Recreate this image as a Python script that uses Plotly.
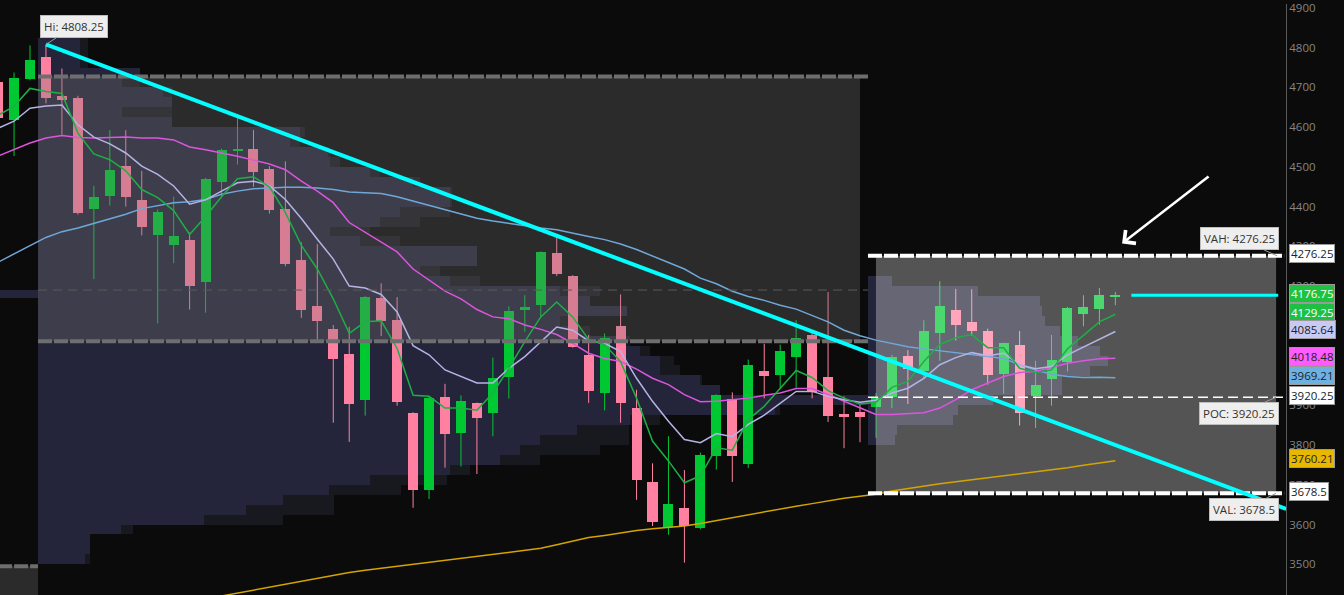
import pandas as pd
import plotly.graph_objects as go

# ---------------- data ----------------
weeks = pd.date_range("2021-12-13", periods=71, freq="7D")   # weekly candles

opens = [4712.5, 4617.5, 4722.5, 4777.5, 4677.5, 4672.5, 4393, 4428, 4502.5, 4417.5,
         4328, 4303, 4315, 4210, 4462.5, 4541, 4545, 4495, 4395, 4265,
         4150, 4092.5, 4030, 3913, 4170, 4115, 3880, 3686, 3920, 3831,
         3905, 3881, 3971, 4141, 4153, 4282.5, 4225, 4027.5, 3930, 4100,
         3892.5, 3707.5, 3593, 3642, 3591, 3773, 3915, 3751, 3987.5, 3976,
         4022.5, 4077.5, 3970, 3877.5, 3882.5, 3896, 3921, 4025, 3987.5, 4081,
         4140, 4110, 4087.5, 3978, 4052.5, 3924, 3966, 4010, 4131, 4143, 4174]
highs = [4725, 4737.5, 4805.75, 4808.25, 4747.5, 4679, 4452.5, 4592.5, 4592.5, 4490,
         4393, 4425, 4335, 4472.5, 4546, 4631, 4593, 4502, 4514, 4310,
         4306, 4102, 4097.5, 4175, 4207, 4172.5, 3882.5, 3922.5, 3954, 3925,
         3907, 4020, 4149, 4177, 4287.5, 4331, 4227.5, 4077, 4081, 4179,
         3939, 3754, 3822, 3737, 3781, 3927.5, 3932.5, 4015, 4055, 4052.5,
         4114, 4081, 4185, 3922.5, 3902, 3931, 4027, 4039, 4114, 4212,
         4193, 4192, 4093, 4057.5, 4087, 4012, 4077, 4147.5, 4177, 4195, 4185]
lows = [4610, 4527.5, 4718, 4660, 4581, 4380, 4217.5, 4402.5, 4400, 4327.5,
        4106, 4257.5, 4141, 4133, 4421, 4506, 4450, 4382.5, 4250, 4120,
        4064, 3856, 3808, 3874, 4074, 3899, 3642, 3664, 3743, 3746,
        3727, 3822, 3917, 4085, 4122.5, 4225, 4045, 3906, 3887, 3856,
        3662, 3596, 3574, 3504, 3588, 3738, 3707, 3742, 3917.5, 3942.5,
        3944, 3917.5, 3858, 3792, 3807, 3818, 3893, 3903, 3968, 4012,
        4063, 4075, 3952, 3929, 3849, 3843, 3899, 3985, 4099, 4103, 4152]
closes = [4622.5, 4725, 4770, 4673, 4668, 4385, 4425, 4492.5, 4423, 4348,
          4387.5, 4325, 4200, 4470, 4543, 4545, 4487.5, 4392.5, 4255, 4141,
          4112.5, 4016, 3903, 4172.5, 4112.5, 3908, 3686, 3917.5, 3828, 3910,
          3868, 3967.5, 4137.5, 4147, 4285, 4230, 4047.5, 3935, 4070, 3905,
          3712.5, 3605, 3652.5, 3596, 3775, 3926, 3773, 4002.5, 3972.5, 4037.5,
          4070, 3934, 3872.5, 3870, 3870, 3918, 4022, 3991, 4087.5, 4150,
          4103, 4087.5, 3975, 4057, 3881, 3952, 4014, 4145, 4147.5, 4177.5, 4176.75]

ma_fast = [4630, 4652.5, 4697.5, 4690, 4685, 4585, 4532.5, 4518, 4490, 4443,
           4422.5, 4390, 4330, 4375, 4425, 4470, 4475, 4450, 4385, 4302.5,
           4243, 4168, 4081, 4110, 4112.5, 4043, 3925, 3922.5, 3893, 3893,
           3887.5, 3931, 3993, 4060, 4122.5, 4160, 4122.5, 4065, 4052.5, 4010,
           3918, 3810, 3760, 3705, 3722.5, 3793, 3787, 3864, 3897.5, 3943,
           3987.5, 3970, 3937, 3918, 3903, 3907.5, 3945, 3960, 4010, 4053,
           4070, 4078, 4045, 4045, 3993, 3982.5, 3989, 4042, 4075, 4110, 4129.25]
ma_10 = [4597.5, 4615, 4647.5, 4653, 4656, 4606, 4575, 4558, 4535, 4502,
         4481, 4452, 4406, 4417, 4439, 4460, 4464, 4453, 4418, 4370,
         4318, 4268, 4200, 4195, 4179, 4135, 4050, 4027, 3989, 3972.5,
         3956, 3956, 3993, 4022.5, 4060, 4097, 4089, 4062, 4056, 4035,
         3968, 3910, 3860, 3814, 3806, 3829, 3821, 3852, 3875, 3906,
         3935, 3935, 3922.5, 3914, 3907.5, 3912.5, 3931, 3943, 3968, 4002,
         4020, 4032.5, 4025, 4031, 4002, 3992, 3997.5, 4027, 4046, 4067, 4085.64]
ma_20 = [4527.5, 4543, 4560, 4572.5, 4579, 4574, 4573, 4574, 4575, 4573,
         4572.5, 4568, 4550, 4543, 4535, 4527, 4517, 4507.5, 4493, 4464,
         4439, 4410, 4360, 4335, 4310, 4286, 4243, 4216, 4187.5, 4168,
         4141, 4122.5, 4118, 4102, 4091, 4078, 4056, 4031, 4018, 4010,
         3991, 3968, 3952, 3927, 3909, 3910, 3914, 3918, 3925, 3931,
         3942, 3942, 3927, 3910, 3893, 3877, 3877, 3879, 3881, 3893,
         3914, 3939, 3956, 3972.5, 3982.5, 3985, 3995, 4006, 4012, 4017, 4018.48]
ma_50 = [4260, 4280, 4302, 4322.5, 4337, 4346, 4357.5, 4370, 4381, 4395,
         4403, 4410, 4412, 4418, 4431, 4439, 4445, 4447.5, 4449, 4449,
         4447, 4443, 4437, 4435, 4433, 4425, 4414, 4404, 4393, 4381,
         4371, 4364, 4358, 4352, 4346, 4342, 4333, 4325, 4317, 4306,
         4292, 4275, 4260, 4243, 4220, 4206, 4187, 4174, 4164, 4152,
         4142, 4127, 4110, 4089, 4075, 4064, 4056, 4047.5, 4042, 4037,
         4031, 4027, 4022.5, 4018, 4002, 3989, 3978, 3972.5, 3970, 3970.5, 3969.21]
ma_200 = [None] * 14 + [
         3420, 3427.5, 3435, 3441, 3449, 3456, 3464, 3471, 3479, 3485,
         3490, 3495, 3500, 3505, 3510, 3515, 3520, 3524, 3530, 3535,
         3540, 3549, 3557.5, 3567, 3572.5, 3579, 3585, 3589, 3592.5, 3596,
         3602.5, 3610, 3617.5, 3625, 3632.5, 3640, 3646, 3652.5, 3660, 3666,
         3671, 3676, 3684, 3690, 3697.5, 3702.5, 3707.5, 3712.5, 3717.5, 3722.5,
         3727.5, 3732.5, 3736, 3742.5, 3749, 3755, 3760.21]

# volume profiles (25-point price bins, relative volume)
left_levels = list(range(3500, 4825, 25))
left_vol = [47, 52, 52, 83, 166, 208, 245, 291, 332, 412, 462, 482, 502, 539, 592, 737,
            830, 682, 662, 622, 622, 602, 582, 542, 522, 589, 552, 522, 412, 382, 439,
            439, 322, 292, 342, 362, 412, 412, 375, 332, 292, 290, 252, 262, 134, 84,
            134, 125, 84, 102, 42, 42, 42]
left_vol_ext = [52, 52, 52, 95, 245, 296, 296, 363, 409, 432, 502, 562, 591, 591, 622, 742,
                830, 682, 664, 642, 636, 612, 592, 552, 532, 589, 552, 562, 442, 402, 439,
                439, 362, 332, 382, 412, 414, 414, 382, 342, 302, 292, 262, 267, 134, 134,
                134, 134, 102, 102, 50, 50, 50]
right_levels = list(range(3800, 4225, 25))
right_vol = [27, 29, 85, 90, 125, 194, 194, 222, 240, 232, 210, 192, 177, 174, 172, 110, 24]

left_vah, left_val, left_poc = 4727.5, 4061.0, 4190.0
vah, val, poc = 4276.25, 3678.5, 3920.25
prev_val, prev_bar_level = 3495.0, 4181.0
trend_end_price = 3639.0

assert len(opens) == len(highs) == len(lows) == len(closes) == len(weeks) == 71
for arr in (ma_fast, ma_10, ma_20, ma_50, ma_200):
    assert len(arr) == 71
assert len(left_vol) == len(left_levels) == len(left_vol_ext)
assert len(right_vol) == len(right_levels)

# ---------------- styling ----------------
BG = "#0b0b0b"
UP, DOWN = "#00c832", "#ff80a0"
NAVY, NAVY_DARK = "#24253a", "#18181f"
WEEK = pd.Timedelta(days=7)
T0 = weeks[3]          # the week of the high
MS_WEEK = 7 * 86400000
PX_PER_WEEK = 15.96
VOL_MS = MS_WEEK / PX_PER_WEEK   # one volume unit spans one pixel


def at(k):
    return T0 + WEEK * k


fig = go.Figure()

# previous-profile remnant at far left
fig.add_trace(go.Bar(y=[prev_bar_level], x=[3.5 * MS_WEEK], base=[at(-4)], orientation="h",
                     width=20, marker=dict(color=NAVY, line_width=0), hoverinfo="skip"))

# left profile (extension tone then core tone)
lstart = at(-0.5)
fig.add_trace(go.Bar(y=[l + 12.5 for l in left_levels], x=[v * VOL_MS for v in left_vol_ext],
                     base=[lstart] * len(left_levels), orientation="h", width=25.3,
                     marker=dict(color=NAVY_DARK, line_width=0), hoverinfo="skip"))
fig.add_trace(go.Bar(y=[l + 12.5 for l in left_levels], x=[v * VOL_MS for v in left_vol],
                     base=[lstart] * len(left_levels), orientation="h", width=25.3,
                     marker=dict(color=NAVY, line_width=0), hoverinfo="skip"))
# right profile
rstart = at(51.5)
fig.add_trace(go.Bar(y=[l + 12.5 for l in right_levels], x=[v * VOL_MS for v in right_vol],
                     base=[rstart] * len(right_levels), orientation="h", width=25.3,
                     marker=dict(color=NAVY, line_width=0), hoverinfo="skip"))

# candles
body_w = 0.627 * MS_WEEK
up_idx = [i for i in range(71) if closes[i] >= opens[i]]
dn_idx = [i for i in range(71) if closes[i] < opens[i]]
fig.add_trace(go.Bar(x=[weeks[i] for i in up_idx], y=[max(closes[i] - opens[i], 0.8) for i in up_idx],
                     base=[opens[i] for i in up_idx], width=body_w,
                     marker=dict(color=UP, line_width=0), hoverinfo="skip"))
fig.add_trace(go.Bar(x=[weeks[i] for i in dn_idx], y=[opens[i] - closes[i] for i in dn_idx],
                     base=[closes[i] for i in dn_idx], width=body_w,
                     marker=dict(color=DOWN, line_width=0), hoverinfo="skip"))


def wicks(idx):
    xs, ys = [], []
    for i in idx:
        xs += [weeks[i], weeks[i], None]
        ys += [lows[i], highs[i], None]
    return xs, ys


for idx, col in ((up_idx, UP), (dn_idx, DOWN)):
    wx, wy = wicks(idx)
    fig.add_trace(go.Scatter(x=wx, y=wy, mode="lines", line=dict(color=col, width=1),
                             hoverinfo="skip"))


def rect(x0, x1, y0, y1, color):
    fig.add_trace(go.Scatter(x=[x0, x1, x1, x0, x0], y=[y0, y0, y1, y1, y0], mode="lines",
                             fill="toself", fillcolor=color, line=dict(width=0),
                             hoverinfo="skip"))


# value-area overlays
rect(at(-0.5), at(51.0), left_val, left_vah, "rgba(118,118,118,0.30)")
rect(at(-4), at(-0.5), 3300, prev_val, "rgba(118,118,118,0.30)")
rect(at(52.0), at(77.07), val, vah, "rgba(255,255,255,0.30)")

# moving averages
for arr, col in ((ma_200, "#d4a500"), (ma_50, "#6fa8d8"), (ma_20, "#dd55dd"),
                 (ma_10, "#b4b4e6"), (ma_fast, "#1fae45")):
    fig.add_trace(go.Scatter(x=weeks, y=arr, mode="lines", line=dict(color=col, width=1.5),
                             hoverinfo="skip", connectgaps=False))

# ---------------- lines ----------------
shapes = []


def hline(x0, x1, y, color, width, dash):
    shapes.append(dict(type="line", xref="x", yref="y", x0=x0, x1=x1, y0=y, y1=y,
                       line=dict(color=color, width=width, dash=dash), layer="above"))


hline(at(-0.5), at(51.5), left_vah, "#6e6e6e", 4, "14px,2px")
hline(at(-0.5), at(51.5), left_val, "#6e6e6e", 4, "14px,2px")
hline(at(-0.5), at(51.5), left_poc, "#5a5a5a", 1, "9px,6px")
hline(at(-4), at(-0.5), prev_val, "#6e6e6e", 4, "14px,2px")
hline(at(51.5), at(77.57), vah, "#ffffff", 4, "14px,2px")
hline(at(51.5), at(77.57), val, "#ffffff", 4, "14px,2px")
hline(at(51.5), at(77.57), poc, "#ffffff", 1.5, "10px,5px")
hline(at(68.0), at(77.2), closes[-1], "#00ffff", 3, "solid")
# trendline from the high
shapes.append(dict(type="line", xref="x", yref="y", x0=weeks[3], y0=highs[3],
                   x1=at(77.7), y1=trend_end_price,
                   line=dict(color="#00ffff", width=4), layer="above"))

# ---------------- annotations ----------------
ann = []
FONT = "Open Sans"


def callout(x, y, text, ax, ay):
    ann.append(dict(x=x, y=y, xref="x", yref="y", text=text, showarrow=True, arrowhead=0,
                    arrowwidth=1, arrowcolor="#9a9a9a", ax=ax, ay=ay,
                    bgcolor="#eeeeee", bordercolor="#bdbdbd", borderwidth=1, borderpad=3,
                    font=dict(family=FONT, size=11.5, color="#333333")))


callout(weeks[3], max(highs), f"Hi: {max(highs):.2f}", 28, -18)
callout(at(77.13), vah, f"VAH: {vah:.2f}", -38, -17)
callout(at(77.07), poc, f"POC: {poc:.2f}", -37, 16)
callout(at(77.07), val, f"VAL: {val:g}", -32, 16)

tags = [
    (vah, f"{vah:.2f}", "#ffffff", "#222222"),
    (closes[-1], f"{closes[-1]:.2f}", "#1fc13f", "#ffffff"),
    (ma_fast[-1], f"{ma_fast[-1]:.2f}", "#1fbf45", "#ffffff"),
    (ma_10[-1], f"{ma_10[-1]:.2f}", "#c9c9f5", "#222222"),
    (ma_20[-1], f"{ma_20[-1]:.2f}", "#ff5cff", "#222222"),
    (ma_50[-1], f"{ma_50[-1]:.2f}", "#6db1e3", "#222222"),
    (poc, f"{poc:.2f}", "#ffffff", "#222222"),
    (ma_200[-1], f"{ma_200[-1]:.2f}", "#e6b800", "#222222"),
    (val, f"{val:g}", "#ffffff", "#222222"),
]
for y, text, bg, fg in tags:
    ann.append(dict(x=1, xref="paper", y=y, yref="y", xanchor="left", xshift=3, yshift=2,
                    text=text, showarrow=False, bgcolor=bg, bordercolor="#9a9a9a",
                    borderwidth=1, borderpad=1, font=dict(family=FONT, size=11.5, color=fg)))

# pointing arrow
ann.append(dict(x=at(67.42), y=4307.5, xref="x", yref="y", text="", showarrow=True,
                arrowhead=4, arrowsize=1.3, arrowwidth=2.5, arrowcolor="#ffffff",
                ax=88, ay=-68))

fig.update_layout(
    width=1344, height=595, margin=dict(l=0, r=58, t=0, b=0),
    paper_bgcolor=BG, plot_bgcolor=BG, showlegend=False,
    barmode="overlay", bargap=0,
    font=dict(family=FONT),
    xaxis=dict(type="date", range=[at(-2.88), at(77.69)], visible=False,
               showgrid=False, zeroline=False),
    yaxis=dict(side="right", range=[3422.5, 4910], tickvals=list(range(3500, 4901, 100)),
               showgrid=False, zeroline=False, showline=True, linecolor="#5a5a5a",
               linewidth=1, ticks="", ticklabeloverflow="allow",
               tickfont=dict(family=FONT, size=11.5, color="#858585")),
    shapes=shapes, annotations=ann,
)

fig.write_html("out.html", config={"displayModeBar": False},
               post_script="document.body.style.margin='0';"
                           "document.body.style.background='#0b0b0b';")
